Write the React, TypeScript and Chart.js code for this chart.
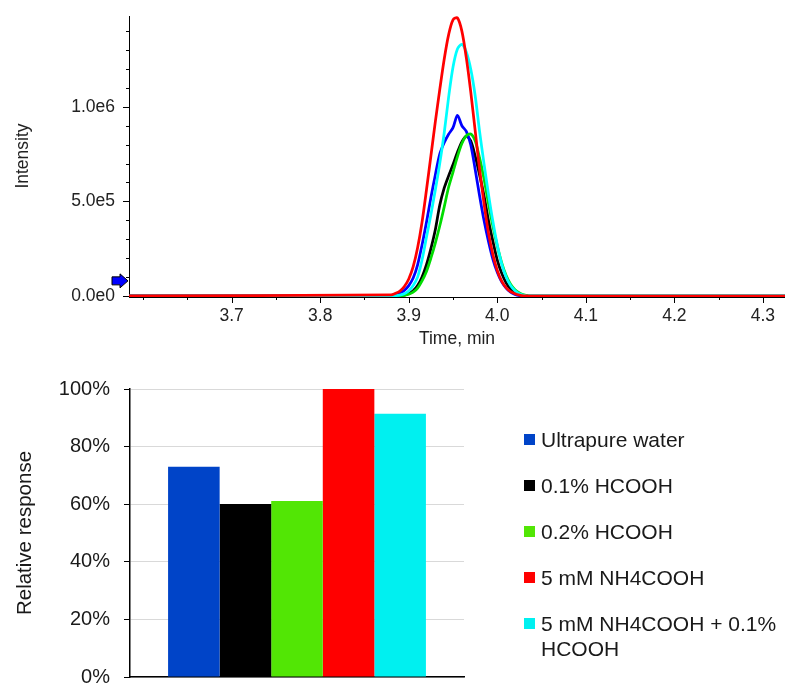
import React, { useEffect, useRef } from 'react';
import { Chart, registerables } from 'chart.js';
Chart.register(...registerables);

const SERIES_NAMES = ['Ultrapure water', '0.1% HCOOH', '0.2% HCOOH', '5 mM NH4COOH', '5 mM NH4COOH + 0.1% HCOOH'];
const LINE_COLORS = ['#0000FF', '#000000', '#00DD00', '#FF0000', '#00FFFF'];
const LINE_ORDER = [3, 4, 2, 0, 1];
const BAR_COLORS = ['#0044C8', '#000000', '#52E605', '#FF0000', '#00F0F0'];
const RELATIVE_RESPONSE = [73.0, 60.1, 61.1, 100, 91.4];

const TIME = [3.58, 3.88, 3.885, 3.89, 3.895, 3.9, 3.905, 3.91, 3.915, 3.92, 3.925, 3.93, 3.935, 3.94, 3.945, 3.95, 3.955, 3.96, 3.965, 3.97, 3.975, 3.98, 3.985, 3.99, 3.995, 4.0, 4.005, 4.01, 4.015, 4.02, 4.025, 4.03, 4.035, 4.04, 4.33];
const INT_WATER = [0, 3000, 8000, 16000, 30000, 55000, 95000, 165000, 270000, 390000, 520000, 640000, 750000, 810000, 855000, 890000, 955000, 900000, 870000, 800000, 670000, 530000, 400000, 290000, 195000, 125000, 75000, 42000, 20000, 8000, 2000, 0, 0, 0, 0];
const INT_HCOOH_01 = [0, 0, 1000, 2000, 5000, 13000, 27000, 55000, 100000, 165000, 250000, 350000, 480000, 570000, 635000, 695000, 760000, 815000, 845000, 820000, 740000, 640000, 530000, 400000, 290000, 190000, 120000, 70000, 38000, 18000, 7000, 2000, 0, 0, 0];
const INT_HCOOH_02 = [0, 0, 0, 0, 3000, 9000, 20000, 42000, 80000, 130000, 200000, 280000, 370000, 470000, 575000, 655000, 737000, 806000, 847000, 856000, 820000, 730000, 620000, 490000, 370000, 265000, 175000, 108000, 62000, 33000, 16000, 6000, 1000, 0, 0];
const INT_NH4 = [0, 6000, 14000, 26000, 50000, 90000, 155000, 255000, 390000, 560000, 740000, 920000, 1090000, 1250000, 1380000, 1460000, 1470000, 1400000, 1260000, 1080000, 875000, 670000, 490000, 335000, 220000, 135000, 78000, 44000, 23000, 12000, 5000, 1000, 0, 0, 0];
const INT_NH4_HCOOH = [0, 0, 2000, 5000, 12000, 27000, 55000, 100000, 190000, 310000, 430000, 560000, 700000, 860000, 1050000, 1210000, 1305000, 1330000, 1290000, 1200000, 1060000, 870000, 700000, 540000, 395000, 270000, 170000, 100000, 55000, 28000, 12000, 4000, 0, 0, 0];
const INTENSITIES = [INT_WATER, INT_HCOOH_01, INT_HCOOH_02, INT_NH4, INT_NH4_HCOOH];

const X_MIN = 3.584;
const X_MAX = 4.325;
const X_MAJOR_STEP = 0.1;
const X_MINOR_STEP = 0.05;
const X_TICK_LABELS = ['3.7', '3.8', '3.9', '4.0', '4.1', '4.2', '4.3'];
const Y_MAX = 1480000;
const Y_MINOR_STEP = 100000;
const Y_MAJOR_VALUES = [0, 500000, 1000000];
const Y_MAJOR_LABELS = ['0.0e0', '5.0e5', '1.0e6'];
const ARROW_LEVEL = 80000;

const TOP_FONT = { family: "'Liberation Sans', Arial, sans-serif", size: 17.5 };
const BOT_FONT = { family: "'Liberation Sans', Arial, sans-serif", size: 20 };

const xLabel = (v: number) => {
  const s = v.toFixed(1);
  return X_TICK_LABELS.includes(s) && Math.abs(v - Number(s)) < 1e-6 ? s : '';
};
const yLabel = (v: number) => {
  const i = Y_MAJOR_VALUES.findIndex((m) => Math.abs(m - v) < 1);
  return i >= 0 ? Y_MAJOR_LABELS[i] : '';
};

const noPad = (s: any) => {
  s.paddingTop = 0;
  s.paddingBottom = 0;
  s.paddingLeft = 0;
  s.paddingRight = 0;
};

const tickPlugin = {
  id: 'customTicks',
  afterDraw(chart: any) {
    const { ctx, chartArea, scales } = chart;
    const x = scales.x;
    const y = scales.y;
    ctx.save();
    ctx.strokeStyle = '#000';
    ctx.lineWidth = 1;
    // axis line just below the baseline traces
    ctx.beginPath();
    ctx.moveTo(chartArea.left, chartArea.bottom + 1.5);
    ctx.lineTo(chartArea.right, chartArea.bottom + 1.5);
    ctx.stroke();
    for (let k = 0; k * Y_MINOR_STEP <= Y_MAX; k++) {
      const v = k * Y_MINOR_STEP;
      const py = Math.round(y.getPixelForValue(v)) + 0.5;
      const len = yLabel(v) ? 6 : 3;
      ctx.beginPath();
      ctx.moveTo(chartArea.left, py);
      ctx.lineTo(chartArea.left - len, py);
      ctx.stroke();
    }
    for (let k = Math.ceil(X_MIN / X_MINOR_STEP); k * X_MINOR_STEP <= X_MAX; k++) {
      const v = k * X_MINOR_STEP;
      const px = Math.round(x.getPixelForValue(v)) + 0.5;
      const len = xLabel(v) ? 6 : 3;
      ctx.beginPath();
      ctx.moveTo(px, chartArea.bottom + 1);
      ctx.lineTo(px, chartArea.bottom + 1 + len);
      ctx.stroke();
    }
    // marker arrow at the left axis
    const ay = y.getPixelForValue(ARROW_LEVEL);
    const tip = chartArea.left - 1;
    ctx.beginPath();
    ctx.moveTo(tip, ay);
    ctx.lineTo(tip - 8, ay - 7);
    ctx.lineTo(tip - 8, ay - 4);
    ctx.lineTo(tip - 16, ay - 4);
    ctx.lineTo(tip - 16, ay + 4);
    ctx.lineTo(tip - 8, ay + 4);
    ctx.lineTo(tip - 8, ay + 7);
    ctx.closePath();
    ctx.fillStyle = '#0000FF';
    ctx.fill();
    ctx.stroke();
    ctx.restore();
  },
};

function Chromatogram() {
  const ref = useRef<HTMLCanvasElement>(null);
  useEffect(() => {
    const chart = new Chart(ref.current as HTMLCanvasElement, {
      type: 'line',
      data: {
        datasets: SERIES_NAMES.map((name, i) => ({
          label: name,
          data: TIME.map((t, k) => ({ x: t, y: INTENSITIES[i][k] })),
          borderColor: LINE_COLORS[i],
          borderWidth: 2.75,
          pointRadius: 0,
          tension: 0.3,
          fill: false,
          order: LINE_ORDER[i],
          clip: { left: 0, right: 0, top: 3, bottom: 3 },
        })),
      },
      options: {
        animation: false,
        responsive: false,
        devicePixelRatio: 1,
        layout: { padding: { top: 16, left: 0, right: 0, bottom: 0 } },
        plugins: { legend: { display: false }, tooltip: { enabled: false } },
        scales: {
          x: {
            type: 'linear',
            min: X_MIN,
            max: X_MAX,
            afterFit: (s: any) => { s.height = 60; noPad(s); },
            grid: { display: true, drawOnChartArea: false, drawTicks: false },
            border: { display: false },
            ticks: {
              stepSize: X_MAJOR_STEP,
              includeBounds: false,
              autoSkip: false,
              maxRotation: 0,
              padding: 10,
              color: '#222',
              font: TOP_FONT,
              callback: (v: any) => xLabel(Number(v)),
            },
            title: { display: true, text: 'Time, min', color: '#222', font: TOP_FONT, padding: { top: 0, bottom: 6 } },
          },
          y: {
            type: 'linear',
            min: 0,
            max: Y_MAX,
            afterBuildTicks: (s: any) => { s.ticks = Y_MAJOR_VALUES.map((v) => ({ value: v })); },
            afterFit: (s: any) => { s.width = 129; noPad(s); },
            grid: { display: true, drawOnChartArea: false, drawTicks: false },
            border: { display: true, color: '#000', width: 1 },
            ticks: {
              autoSkip: false,
              padding: 14,
              color: '#222',
              font: TOP_FONT,
              callback: (v: any) => yLabel(Number(v)),
            },
            title: { display: true, text: 'Intensity', color: '#222', font: TOP_FONT, padding: { top: 13, bottom: 0 } },
          },
        },
      },
      plugins: [tickPlugin],
    } as any);
    return () => chart.destroy();
  }, []);
  return <canvas ref={ref} width={785} height={356} style={{ position: 'absolute', left: 0, top: 0 }} />;
}

function ResponseBars() {
  const ref = useRef<HTMLCanvasElement>(null);
  useEffect(() => {
    const chart = new Chart(ref.current as HTMLCanvasElement, {
      type: 'bar',
      data: {
        labels: [''],
        datasets: SERIES_NAMES.map((name, i) => ({
          label: name,
          data: [RELATIVE_RESPONSE[i]],
          backgroundColor: BAR_COLORS[i],
          borderWidth: 0,
          categoryPercentage: 0.772,
          barPercentage: 1,
        })),
      },
      options: {
        animation: false,
        responsive: false,
        devicePixelRatio: 1,
        layout: { padding: { top: 33, left: 0, right: 321, bottom: 0 } },
        plugins: { legend: { display: false }, tooltip: { enabled: false } },
        scales: {
          x: {
            afterFit: (s: any) => { s.height = 6; noPad(s); },
            grid: { display: false },
            border: { display: true, color: '#000', width: 1.5 },
            ticks: { display: false },
          },
          y: {
            min: 0,
            max: 100,
            afterFit: (s: any) => { s.width = 130; noPad(s); },
            grid: { color: '#d9d9d9', tickColor: '#000', tickLength: 6, lineWidth: 1 },
            border: { display: true, color: '#000', width: 1.5 },
            ticks: {
              stepSize: 20,
              padding: 14,
              color: '#1a1a1a',
              font: BOT_FONT,
              callback: (v: any) => `${v}%`,
            },
            title: { display: true, text: 'Relative response', color: '#1a1a1a', font: { ...BOT_FONT, size: 20.5 }, padding: { top: 13, bottom: 0 } },
          },
        },
      },
    } as any);
    return () => chart.destroy();
  }, []);
  return <canvas ref={ref} width={785} height={327} style={{ position: 'absolute', left: 0, top: 356 }} />;
}

function Legend() {
  return (
    <div style={{ position: 'absolute', left: 524, top: 427, width: 261, fontFamily: "'Liberation Sans', Arial, sans-serif", fontSize: 21, lineHeight: '25px', color: '#1a1a1a' }}>
      {SERIES_NAMES.map((name, i) => (
        <div key={name} style={{ display: 'flex', alignItems: 'flex-start', marginBottom: 21 }}>
          <div style={{ width: 11, height: 11, marginTop: 7, background: BAR_COLORS[i], flex: '0 0 11px' }} />
          <div style={{ marginLeft: 6 }}>{name}</div>
        </div>
      ))}
    </div>
  );
}

export default function App() {
  return (
    <div style={{ position: 'absolute', left: 0, top: 0, width: 785, height: 683, background: '#fff', overflow: 'hidden' }}>
      <Chromatogram />
      <ResponseBars />
      <Legend />
    </div>
  );
}
